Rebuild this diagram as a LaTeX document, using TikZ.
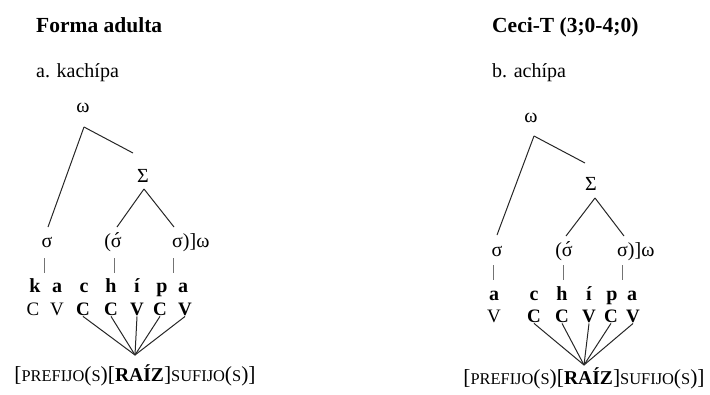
\documentclass[tikz,border=0pt]{standalone}
\usepackage{fontspec}
\setmainfont{Liberation Serif}
\usetikzlibrary{calc}
\tikzset{
  txt/.style={inner sep=0pt, anchor=base, font=\fontsize{20}{24}\selectfont},
  txtw/.style={txt, anchor=base west},
  bld/.style={txt, font=\fontsize{20}{24}\selectfont\bfseries},
  ttl/.style={inner sep=0pt, anchor=base west, font=\fontsize{21.5}{25}\selectfont\bfseries},
  sub/.style={inner sep=0pt, anchor=base west, font=\fontsize{20}{24}\selectfont},
  seg/.style={inner sep=1pt, anchor=base, font=\fontsize{19}{23}\selectfont},
  bseg/.style={seg, font=\fontsize{19}{23}\selectfont\bfseries},
  br/.style={inner sep=0pt, anchor=base, font=\fontsize{21.5}{26}\selectfont},
  ln/.style={line width=1pt, black!85},
  vln/.style={line width=1pt, black!55}
}
\newcommand{\sm}[1]{{\fontsize{16.4}{20}\selectfont #1}}
\newcommand{\bracktext}{[\sm{PREFIJO}(\sm{S})[{\fontsize{19.6}{24}\selectfont\bfseries RAÍZ}]\sm{SUFIJO}(\sm{S})]}
\newcommand{\sacute}{\ooalign{σ\cr\hidewidth\kern1pt\raisebox{0.5pt}{\char"00B4}\hidewidth\cr}}
\begin{document}
\begin{tikzpicture}[x=1pt,y=-1pt]
\useasboundingbox (0,0) rectangle (710,394);
% ---------- left panel ----------
\node[ttl] (Lt) at (36,32) {Forma adulta};
\node[sub] (La) at (36,77) {a. kachípa};
\node[txt] (Lw) at (83,112) {ω};
\node[txt] (LS) at (143,182) {Σ};
\node[txt] (Ls1) at (47,247) {σ};
\node[txt] (Ls2) at (113,247) {(\sacute};
\node[txtw] (Ls3) at (172,247) {σ)]ω};
\draw[ln] ($(Lw.base)+(1,15)$) -- ($(Ls1.base)+(1,-20)$);
\draw[ln] ($(Lw.base)+(1,15)$) -- ($(LS.base)+(-10,-29)$);
\draw[ln] ($(LS.base)+(1,7)$) -- ($(Ls2.base)+(4,-20)$);
\draw[ln] ($(LS.base)+(1,7)$) -- ($(Ls3.base west)+(2,-20)$);
\draw[vln] ($(Ls1.base)+(-3,11)$) -- ($(Ls1.base)+(-3,26)$);
\draw[vln] ($(Ls2.base)+(1,11)$) -- ($(Ls2.base)+(1,26)$);
\draw[vln] ($(Ls3.base west)+(1,11)$) -- ($(Ls3.base west)+(1,26)$);
% segments
\node[bld] (Lk) at (35,292) {k};
\node[bld] (La1) at (57,292) {a};
\node[bld] (Lc) at (84,292) {c};
\node[bld] (Lh) at (111,292) {h};
\node[bld] (Li) at (137,292) {í};
\node[bld] (Lp) at (162,292) {p};
\node[bld] (La2) at (183,292) {a};
\node[seg] (LC1) at (33,315) {C};
\node[seg] (LV1) at (57,315) {V};
\node[bseg] (LC2) at (83,315) {C};
\node[bseg] (LC3) at (111,315) {C};
\node[bseg] (LV2) at (137,315) {V};
\node[bseg] (LC4) at (160,315) {C};
\node[bseg] (LV3) at (185,315) {V};
\coordinate (Lx) at (135,355);
\foreach \n in {LC2,LC3,LV2,LC4,LV3} \draw[ln] (\n.south) -- (Lx);
\node[br] (Lb) at (135,381) {\bracktext};
% ---------- right panel ----------
\node[ttl] (Rt) at (492,32) {Ceci-T (3;0-4;0)};
\node[sub] (Ra) at (492,77) {b. achípa};
\node[txt] (Rw) at (531,122) {ω};
\node[txt] (RS) at (591,190) {Σ};
\node[txt] (Rs1) at (497,256) {σ};
\node[txt] (Rs2) at (564,256) {(\sacute};
\node[txtw] (Rs3) at (617,256) {σ)]ω};
\draw[ln] ($(Rw.base)+(3,14)$) -- ($(Rs1.base)+(0,-21)$);
\draw[ln] ($(Rw.base)+(3,14)$) -- ($(RS.base)+(-6,-27)$);
\draw[ln] ($(RS.base)+(4,8)$) -- ($(Rs2.base)+(2,-20)$);
\draw[ln] ($(RS.base)+(4,8)$) -- ($(Rs3.base west)+(7,-20)$);
\draw[vln] ($(Rs1.base)+(-4,9)$) -- ($(Rs1.base)+(-4,24)$);
\draw[vln] ($(Rs2.base)+(-1,9)$) -- ($(Rs2.base)+(-1,24)$);
\draw[vln] ($(Rs3.base west)+(5,9)$) -- ($(Rs3.base west)+(5,24)$);
\node[bld] (Ra1) at (494,300) {a};
\node[bld] (Rc) at (534,300) {c};
\node[bld] (Rh) at (562,300) {h};
\node[bld] (Ri) at (589,300) {í};
\node[bld] (Rp) at (612,300) {p};
\node[bld] (Ra2) at (632,300) {a};
\node[seg] (RV1) at (494,322) {V};
\node[bseg] (RC2) at (534,322) {C};
\node[bseg] (RC3) at (562,322) {C};
\node[bseg] (RV2) at (589,322) {V};
\node[bseg] (RC4) at (611,322) {C};
\node[bseg] (RV3) at (633,322) {V};
\coordinate (Rx) at (584,365);
\foreach \n in {RC2,RC3,RV2,RC4,RV3} \draw[ln] (\n.south) -- (Rx);
\node[br] (Rb) at (584,384) {\bracktext};
\end{tikzpicture}
\end{document}
